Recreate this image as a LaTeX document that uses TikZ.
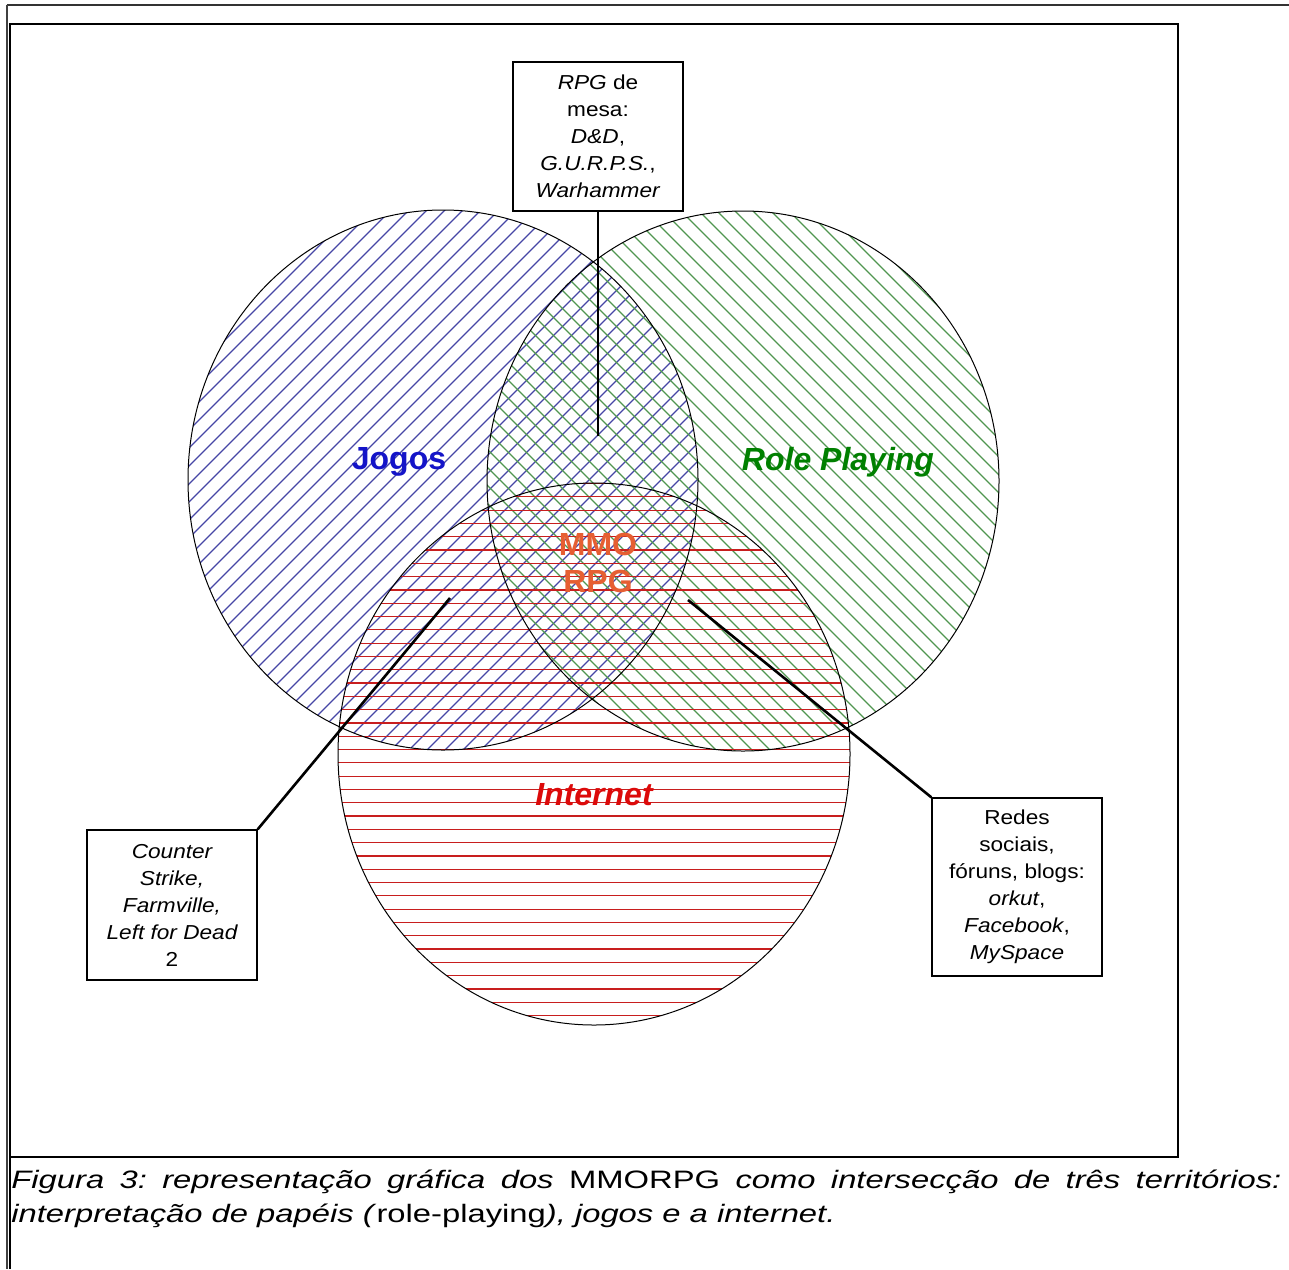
\documentclass[tikz,border=0pt]{standalone}
\usepackage{fontspec}
\setmainfont{Liberation Sans}
\newfontfamily\capfont{Liberation Sans}[FakeStretch=1.3]
\newfontfamily\boxfont{Liberation Sans}[FakeStretch=1.12]
\definecolor{azuljogos}{RGB}{20,20,200}
\definecolor{verderole}{RGB}{0,128,0}
\definecolor{vermelhonet}{RGB}{220,10,10}
\definecolor{laranjammo}{RGB}{230,95,50}
\definecolor{hachazul}{RGB}{70,70,165}
\definecolor{hachverde}{RGB}{80,150,80}
\definecolor{hachvermelho}{RGB}{200,30,30}
\tikzset{
	caixa/.style={draw,line width=0.7pt,inner sep=0pt,minimum width=85pt,align=center,
		font=\boxfont\fontsize{10.1}{13.5}\selectfont},
	ligacao/.style={line width=1.3pt},
	contorno/.style={line width=0.5pt},
	hachura/.style={line width=0.6pt},
	rotulo/.style={font=\bfseries\fontsize{16}{18.5}\selectfont,align=center},
	legenda/.style={anchor=base west,inner sep=0pt,font=\capfont\fontsize{12.6}{17}\selectfont}
}
\frenchspacing
\begin{document}
\begin{tikzpicture}[x=0.5pt,y=-0.5pt]
		\useasboundingbox (0,0) rectangle (1289,1269);
		%Moldura
		\draw[line width=1pt,black!80] (6.5,5) -- (1289,5);
		\draw[line width=1pt,black!75] (6.5,5) -- (6.5,1269);
		\draw[line width=1pt] (9.5,23.5) -- (9.5,1269);
		\draw[line width=1pt] (9.5,23.5) rectangle (1178,1157);
		%Moldura
		
		%Hachuras%
		\begin{scope}
			\clip (443,480) ellipse [x radius=255, y radius=270];
			\foreach \c in {529,547,...,1310}
			\draw[hachura,hachazul] (\c-200,200) -- (\c-780,780);
		\end{scope}
		\begin{scope}
			\clip (743,481) ellipse [x radius=256, y radius=270];
			\foreach \c in {-106,-88,...,640}
			\draw[hachura,hachverde] (\c+200,200) -- (\c+780,780);
		\end{scope}
		\begin{scope}
			\clip (594,754) ellipse [x radius=256, y radius=271];
			\foreach \y in {483.5,496.8,...,1027}
			\draw[hachura,hachvermelho] (330,\y) -- (860,\y);
		\end{scope}
		
		%Contornos%
		\draw[contorno] (443,480) ellipse [x radius=255, y radius=270];
		\draw[contorno] (743,481) ellipse [x radius=256, y radius=270];
		\draw[contorno] (594,754) ellipse [x radius=256, y radius=271];
		
		%Rotulos%
		\node[rotulo,text=azuljogos](jogos)at (399,462) {Jogos};
		\node[rotulo,text=verderole](role)at (838,462) {\itshape Role Playing};
		\node[rotulo,text=vermelhonet](internet)at (594,795) {\itshape Internet};
		\node[rotulo,text=laranjammo](mmo)at (598,563) {MMO\\RPG};
		
		%Caixas%
		\node[caixa,minimum height=74.5pt](rpg)at (598,136.5)
		{\textit{RPG} de\\mesa:\\\textit{D\&D},\\\textit{G.U.R.P.S.},\\\textit{Warhammer}};
		\node[caixa,minimum height=75pt](counter)at (172,905)
		{\itshape Counter\\\itshape Strike,\\\itshape Farmville,\\\itshape Left for Dead\\2};
		\node[caixa,minimum height=89pt](redes)at (1017,887)
		{Redes\\sociais,\\fóruns, blogs:\\\textit{orkut},\\\textit{Facebook},\\\textit{MySpace}};
		
		%Ligacoes%
		\coordinate (rpgponta) at (598,436);
		\coordinate (counterponta) at (450,598);
		\coordinate (redesponta) at (688,600);
		\draw[ligacao] (rpg.south) -- (rpgponta);
		\draw[ligacao] (counter.north east) -- (counterponta);
		\draw[ligacao] (redes.north west) -- (redesponta);
		
		%Legenda%
		\node[legenda](legenda1)at (11,1188)
		{\makebox[635pt][s]{\textit{Figura 3: representação gráfica dos} MMORPG \textit{como intersecção de três territórios:}}};
		\node[legenda](legenda2)at (11,1222)
		{\textit{interpretação de papéis (}role-playing\textit{), jogos e a internet.}};
	\end{tikzpicture}
\end{document}
